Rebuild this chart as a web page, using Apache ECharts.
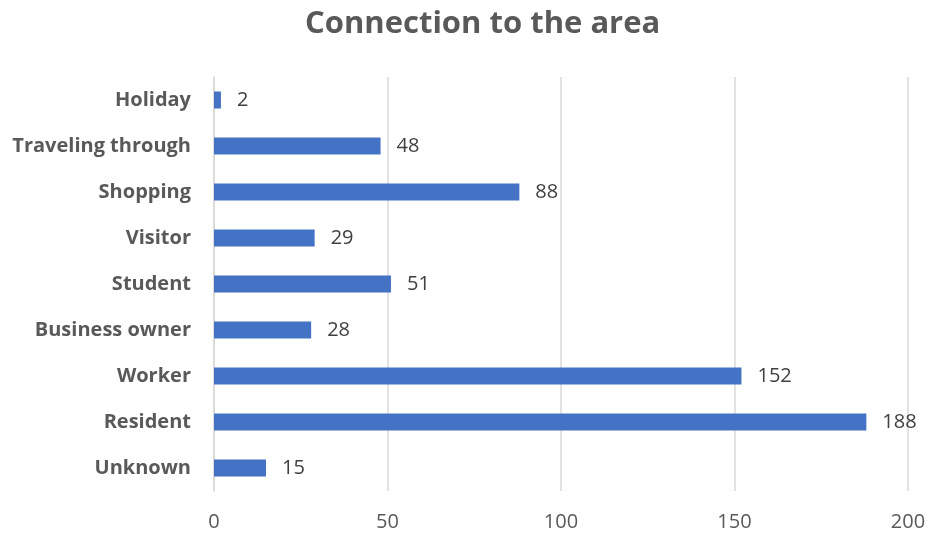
<!DOCTYPE html>
<html><head><meta charset="utf-8">
<script src="https://cdn.jsdelivr.net/npm/echarts@6/dist/echarts.min.js"></script>
<style>html,body{margin:0;padding:0;background:#fff}#c{width:930px;height:534px}</style>
</head><body><div id="c"></div>
<script>
const categories = ["Unknown","Resident","Worker","Business owner","Student","Visitor","Shopping","Traveling through","Holiday"];
const values = [15,188,152,28,51,29,88,48,2];
const xTicks = [0,50,100,150,200];

const chart = echarts.init(document.getElementById('c'), null, {renderer:'canvas'});
chart.setOption({
  backgroundColor:'#fff',
  animation:false,
  title:{text:'Connection to the area',left:300,top:4,
    textStyle:{fontFamily:'Open Sans',fontSize:31,fontWeight:'bold',color:'#595959'}},
  grid:{left:214,right:22,top:77,bottom:43,containLabel:false},
  xAxis:{type:'value',min:xTicks[0],max:xTicks[xTicks.length-1],interval:50,
    axisLine:{show:false},axisTick:{show:false},
    splitLine:{lineStyle:{color:'#d9d9d9',width:1.5}},
    axisLabel:{fontFamily:'Open Sans',fontSize:20,color:'#595959',margin:21}},
  yAxis:{type:'category',data:categories,
    axisLine:{show:true,lineStyle:{color:'#d9d9d9',width:1.5}},axisTick:{show:false},
    axisLabel:{fontFamily:'Open Sans',fontSize:20,fontWeight:'bold',color:'#595959',margin:23}},
  series:[{type:'bar',data:values,barWidth:17,
    itemStyle:{color:'#4472C4'},
    label:{show:true,position:'right',distance:16,fontFamily:'Open Sans',fontSize:20,color:'#404040'}}]
});
</script></body></html>
